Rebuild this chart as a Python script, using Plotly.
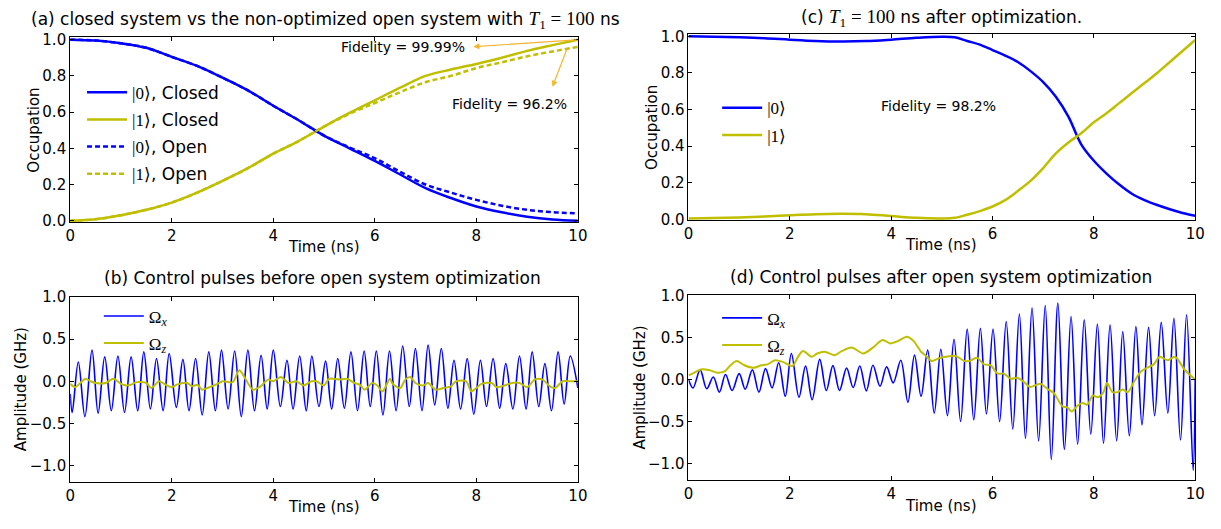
import plotly.graph_objects as go

W, H = 1221, 529
BLUE = "#0000ff"
YEL = "#bfbf00"
ARROW = "#f5b531"
SANS = "DejaVu Sans"
SERIF = "Liberation Serif"

# ---------------- Panel (a): closed vs open, before optimization ----------------
t_a = [0.0, 0.5, 1.0, 1.5, 2.0, 2.5, 3.0, 3.5, 4.0, 4.5, 5.0,
       5.5, 6.0, 6.5, 7.0, 7.5, 8.0, 8.5, 9.0, 9.5, 10.0]
a_closed0 = [1.0, 0.995, 0.98, 0.955, 0.905, 0.855, 0.79, 0.72, 0.635, 0.555, 0.47,
             0.40, 0.33, 0.255, 0.18, 0.125, 0.078, 0.046, 0.022, 0.007, 0.0]
a_closed1 = [0.0, 0.008, 0.03, 0.06, 0.10, 0.155, 0.22, 0.29, 0.37, 0.44, 0.52,
             0.595, 0.665, 0.735, 0.80, 0.835, 0.866, 0.90, 0.938, 0.97, 1.0]
a_open0 = [1.0, 0.995, 0.98, 0.955, 0.905, 0.855, 0.79, 0.72, 0.635, 0.555, 0.47,
           0.405, 0.345, 0.27, 0.20, 0.155, 0.115, 0.083, 0.06, 0.047, 0.04]
a_open1 = [0.0, 0.008, 0.03, 0.06, 0.10, 0.155, 0.22, 0.29, 0.37, 0.44, 0.52,
           0.59, 0.65, 0.71, 0.765, 0.80, 0.843, 0.875, 0.908, 0.935, 0.96]

# ---------------- Panel (c): after optimization ----------------
t_c = [0.0, 0.5, 1.0, 1.5, 2.0, 2.5, 3.0, 3.5, 4.0, 4.5, 5.0, 5.25, 5.5, 5.75,
       6.0, 6.25, 6.5, 6.75, 7.0, 7.25, 7.5, 7.75, 8.0, 8.25, 8.5, 8.75,
       9.0, 9.25, 9.5, 9.75, 10.0]
c_pop0 = [1.0, 0.998, 0.995, 0.99, 0.982, 0.975, 0.972, 0.974, 0.982, 0.992, 0.998,
          0.995, 0.975, 0.955, 0.925, 0.895, 0.86, 0.81, 0.75, 0.67, 0.56, 0.41,
          0.32, 0.25, 0.19, 0.14, 0.105, 0.078, 0.055, 0.035, 0.02]
c_pop1 = [0.005, 0.007, 0.01, 0.015, 0.022, 0.028, 0.03, 0.028, 0.018, 0.008, 0.005,
          0.008, 0.025, 0.045, 0.07, 0.105, 0.155, 0.21, 0.28, 0.36, 0.42, 0.47,
          0.53, 0.58, 0.635, 0.69, 0.745, 0.80, 0.86, 0.92, 0.98]

# ---------------- Panel (b): control pulses before optimization ----------------
b_x_t = [0.0, 0.04, 0.16, 0.29, 0.43, 0.55, 0.68, 0.81, 0.94, 1.07, 1.20, 1.33,
         1.45, 1.58, 1.70, 1.83, 1.95, 2.09, 2.22, 2.34, 2.47, 2.60, 2.73, 2.86,
         2.98, 3.11, 3.24, 3.37, 3.50, 3.63, 3.76, 3.88, 4.00, 4.14, 4.27, 4.39,
         4.52, 4.65, 4.76, 4.90, 5.03, 5.15, 5.27, 5.40, 5.53, 5.66, 5.79, 5.91,
         6.03, 6.16, 6.29, 6.42, 6.55, 6.68, 6.80, 6.93, 7.05, 7.18, 7.31, 7.44,
         7.56, 7.69, 7.82, 7.95, 8.08, 8.20, 8.33, 8.46, 8.58, 8.72, 8.85, 8.98,
         9.10, 9.23, 9.35, 9.48, 9.61, 9.73, 9.85, 10.0]
b_x_v = [-0.15, -0.37, 0.23, -0.42, 0.37, -0.38, 0.29, -0.35, 0.30, -0.37, 0.29, -0.35,
         0.35, -0.33, 0.27, -0.35, 0.33, -0.31, 0.26, -0.35, 0.27, -0.40, 0.35, -0.35,
         0.37, -0.33, 0.36, -0.42, 0.37, -0.35, 0.31, -0.33, 0.37, -0.30, 0.25, -0.33,
         0.30, -0.35, 0.30, -0.30, 0.24, -0.33, 0.27, -0.32, 0.35, -0.35, 0.36, -0.30,
         0.36, -0.40, 0.36, -0.35, 0.42, -0.30, 0.39, -0.35, 0.43, -0.28, 0.39, -0.32,
         0.25, -0.33, 0.27, -0.39, 0.25, -0.30, 0.27, -0.32, 0.21, -0.33, 0.30, -0.33,
         0.35, -0.30, 0.21, -0.35, 0.35, -0.27, 0.30, -0.08]
b_z_t = [0.0, 0.1, 0.2, 0.3, 0.4, 0.5, 0.7, 0.85, 1.0, 1.1, 1.2, 1.3, 1.5, 1.6, 1.75,
         1.85, 2.0, 2.1, 2.3, 2.4, 2.5, 2.6, 2.7, 2.9, 3.0, 3.2, 3.33, 3.45, 3.6, 3.75,
         3.9, 4.0, 4.15, 4.3, 4.45, 4.6, 4.75, 4.85, 5.0, 5.1, 5.3, 5.45, 5.6, 5.7,
         5.8, 5.95, 6.05, 6.15, 6.3, 6.35, 6.5, 6.6, 6.7, 6.8, 6.95, 7.05, 7.2, 7.35,
         7.5, 7.6, 7.8, 7.9, 8.0, 8.1, 8.3, 8.4, 8.5, 8.7, 8.85, 9.0, 9.15, 9.3, 9.45,
         9.55, 9.7, 9.85, 10.0]
b_z_v = [-0.03, -0.07, -0.02, 0.03, 0.0, -0.02, -0.02, 0.03, -0.03, -0.05, -0.04, -0.01,
         -0.02, -0.08, 0.0, -0.03, -0.07, -0.04, -0.02, -0.06, -0.04, -0.10, -0.08, -0.03,
         0.0, -0.01, 0.13, 0.03, -0.10, -0.06, 0.02, 0.0, 0.05, -0.02, 0.0, -0.05, 0.0,
         0.0, -0.05, 0.03, 0.02, 0.03, -0.02, -0.04, -0.10, -0.02, -0.05, -0.12, 0.03,
         -0.03, -0.08, 0.02, 0.05, -0.02, -0.05, -0.02, -0.10, -0.08, -0.06, 0.0, 0.0,
         -0.12, -0.08, -0.03, -0.02, -0.07, -0.06, -0.02, -0.02, -0.07, 0.02, 0.02,
         -0.06, -0.08, 0.0, 0.0, 0.0]

# ---------------- Panel (d): control pulses after optimization ----------------
d_x_t = [0.0, 0.09, 0.23, 0.36, 0.49, 0.61, 0.73, 0.86, 1.00, 1.12, 1.26, 1.39, 1.52,
         1.65, 1.78, 1.91, 2.03, 2.18, 2.31, 2.44, 2.59, 2.72, 2.85, 2.98, 3.12, 3.25,
         3.38, 3.51, 3.64, 3.78, 3.91, 4.04, 4.19, 4.33, 4.46, 4.59, 4.72, 4.85, 4.98,
         5.11, 5.24, 5.37, 5.50, 5.63, 5.76, 5.88, 6.01, 6.14, 6.27, 6.40, 6.53, 6.65,
         6.78, 6.91, 7.04, 7.16, 7.29, 7.42, 7.55, 7.68, 7.81, 7.94, 8.07, 8.19, 8.32,
         8.45, 8.57, 8.70, 8.83, 8.95, 9.08, 9.20, 9.33, 9.46, 9.58, 9.71, 9.83, 9.96,
         10.0]
d_x_v = [0.0, -0.10, 0.115, -0.11, 0.03, -0.15, 0.06, -0.13, 0.07, -0.115, 0.115, -0.15,
         0.13, -0.10, 0.20, -0.20, 0.31, -0.21, 0.16, -0.24, 0.24, -0.13, 0.165, -0.13,
         0.135, -0.095, 0.16, -0.135, 0.17, -0.08, 0.15, -0.04, 0.23, -0.27, 0.29, -0.20,
         0.35, -0.40, 0.36, -0.43, 0.48, -0.50, 0.60, -0.48, 0.61, -0.41, 0.60, -0.50,
         0.69, -0.59, 0.78, -0.70, 0.85, -0.73, 0.88, -0.95, 0.91, -0.83, 0.75, -0.77,
         0.71, -0.65, 0.66, -0.76, 0.65, -0.73, 0.57, -0.67, 0.63, -0.54, 0.62, -0.43,
         0.68, -0.40, 0.73, -0.72, 0.77, -1.08, 0.0]
d_z_t = [0.0, 0.11, 0.24, 0.42, 0.57, 0.72, 0.83, 0.95, 1.10, 1.29, 1.44, 1.56, 1.71,
         1.86, 2.05, 2.16, 2.26, 2.43, 2.54, 2.69, 2.88, 3.03, 3.22, 3.45, 3.64, 3.83,
         3.98, 4.14, 4.31, 4.44, 4.59, 4.69, 4.80, 4.93, 5.08, 5.27, 5.45, 5.54, 5.69,
         5.83, 5.96, 6.10, 6.22, 6.36, 6.49, 6.64, 6.74, 6.94, 7.10, 7.21, 7.38, 7.47,
         7.56, 7.68, 7.78, 7.87, 7.98, 8.08, 8.19, 8.26, 8.37, 8.47, 8.57, 8.67, 8.79,
         8.92, 9.02, 9.18, 9.30, 9.46, 9.60, 9.80, 10.0]
d_z_v = [0.05, 0.08, 0.12, 0.11, 0.08, 0.10, 0.17, 0.22, 0.17, 0.14, 0.17, 0.18, 0.23,
         0.21, 0.16, 0.27, 0.34, 0.27, 0.31, 0.33, 0.29, 0.34, 0.38, 0.31, 0.38, 0.47,
         0.43, 0.46, 0.51, 0.46, 0.33, 0.28, 0.22, 0.25, 0.27, 0.28, 0.22, 0.22, 0.26,
         0.18, 0.17, 0.07, 0.07, 0.01, 0.02, -0.04, -0.09, -0.05, -0.12, -0.16, -0.32,
         -0.33, -0.38, -0.31, -0.28, -0.30, -0.19, -0.21, -0.15, -0.04, -0.15, -0.15,
         -0.12, -0.15, -0.03, 0.09, 0.13, 0.18, 0.27, 0.23, 0.27, 0.11, 0.0]

x_ticks = [0, 2, 4, 6, 8, 10]
occ_ticks = [0.0, 0.2, 0.4, 0.6, 0.8, 1.0]
amp_ticks = [-1.0, -0.5, 0.0, 0.5, 1.0]


def px(x):
    return x / W


def py(y):
    return 1 - y / H


def ket(n):
    return f'<span style="font-family:{SERIF}">|{n}⟩</span>'


def omega(s):
    return f'<span style="font-family:{SERIF}">Ω<sub><i>{s}</i></sub></span>'


fig = go.Figure()
spl = dict(shape="spline", smoothing=1.0)

# (a)
fig.add_trace(go.Scatter(x=t_a, y=a_closed0, name=ket(0) + ", Closed", xaxis="x", yaxis="y",
                         line=dict(color=BLUE, width=2.5, **spl), legend="legend", legendgroup="a1"))
fig.add_trace(go.Scatter(x=t_a, y=a_closed1, name=ket(1) + ", Closed", xaxis="x", yaxis="y",
                         line=dict(color=YEL, width=2.5, **spl), legend="legend", legendgroup="a2"))
fig.add_trace(go.Scatter(x=t_a, y=a_open0, name=ket(0) + ", Open", xaxis="x", yaxis="y",
                         line=dict(color=BLUE, width=2.5, dash="5px,3px", **spl), legend="legend", legendgroup="a3"))
fig.add_trace(go.Scatter(x=t_a, y=a_open1, name=ket(1) + ", Open", xaxis="x", yaxis="y",
                         line=dict(color=YEL, width=2.5, dash="5px,3px", **spl), legend="legend", legendgroup="a4"))
# (c)
fig.add_trace(go.Scatter(x=t_c, y=c_pop0, name=ket(0), xaxis="x2", yaxis="y2",
                         line=dict(color=BLUE, width=2.5, **spl), legend="legend2", legendgroup="c1"))
fig.add_trace(go.Scatter(x=t_c, y=c_pop1, name=ket(1), xaxis="x2", yaxis="y2",
                         line=dict(color=YEL, width=2.5, **spl), legend="legend2", legendgroup="c2"))
# (b)
fig.add_trace(go.Scatter(x=b_x_t, y=b_x_v, name=omega("x"), xaxis="x3", yaxis="y3",
                         line=dict(color=BLUE, width=1.6, **spl), legend="legend3", legendgroup="b1"))
fig.add_trace(go.Scatter(x=b_z_t, y=b_z_v, name=omega("z"), xaxis="x3", yaxis="y3",
                         line=dict(color=YEL, width=2, shape="spline", smoothing=0.8),
                         legend="legend3", legendgroup="b2"))
# (d)
fig.add_trace(go.Scatter(x=d_x_t, y=d_x_v, name=omega("x"), xaxis="x4", yaxis="y4",
                         line=dict(color=BLUE, width=1.6, **spl), legend="legend4", legendgroup="d1"))
fig.add_trace(go.Scatter(x=d_z_t, y=d_z_v, name=omega("z"), xaxis="x4", yaxis="y4",
                         line=dict(color=YEL, width=2, shape="spline", smoothing=0.8),
                         legend="legend4", legendgroup="d2"))

axis_common = dict(showline=True, linecolor="black", linewidth=1, mirror="allticks",
                   ticks="inside", ticklen=4, tickwidth=1, tickcolor="black",
                   showgrid=False, zeroline=False,
                   tickfont=dict(family=SANS, size=15, color="black"))

leg_common = dict(xanchor="left", yanchor="top", bgcolor="rgba(0,0,0,0)",
                  font=dict(family=SANS, size=17), tracegroupgap=2, itemwidth=40)

fig.update_layout(
    width=W, height=H, margin=dict(l=0, r=0, t=0, b=0),
    paper_bgcolor="white", plot_bgcolor="white",
    font=dict(family=SANS, color="black"),
    xaxis=dict(domain=[px(66), px(580)], range=[0, 10], anchor="y",
               tickvals=x_ticks, **axis_common),
    yaxis=dict(domain=[py(220.5), py(29)], range=[-0.0096, 1.0144], anchor="x",
               tickvals=occ_ticks, tickformat=".1f", **axis_common),
    xaxis2=dict(domain=[px(692), px(1205)], range=[0, 10], anchor="y2",
                tickvals=x_ticks, **axis_common),
    yaxis2=dict(domain=[py(218.3), py(26)], range=[-0.0053, 1.012], anchor="x2",
                tickvals=occ_ticks, tickformat=".1f", **axis_common),
    xaxis3=dict(domain=[px(66), px(580)], range=[0, 10], anchor="y3",
                tickvals=x_ticks, **axis_common),
    yaxis3=dict(domain=[py(489), py(297.7)], range=[-1.2, 1.0], anchor="x3",
                tickvals=amp_ticks, tickformat=".1f", **axis_common),
    xaxis4=dict(domain=[px(692), px(1205)], range=[0, 10], anchor="y4",
                tickvals=x_ticks, **axis_common),
    yaxis4=dict(domain=[py(487), py(296)], range=[-1.2, 1.0], anchor="x4",
                tickvals=amp_ticks, tickformat=".1f", **axis_common),
    legend=dict(x=px(78), y=py(68), **leg_common),
    legend2=dict(x=px(721), y=py(84), **leg_common),
    legend3=dict(x=px(95), y=py(299), **leg_common),
    legend4=dict(x=px(721), y=py(301), **leg_common),
)

ann = []


def text(x, y, s, size, **kw):
    d = dict(x=px(x), y=py(y), xref="paper", yref="paper", text=s, showarrow=False,
             xanchor="center", yanchor="middle",
             font=dict(family=SANS, size=size, color="black"))
    d.update(kw)
    ann.append(d)


serifT = (f'<span style="font-family:{SERIF};font-size:19px"><i>T</i><sub>1</sub>'
          f' = 100</span>')
text(324, 11, "(a) closed system vs the non-optimized open system with " + serifT + " ns", 17)
text(948, 9, "(c) " + serifT + " ns after optimization.", 17)
text(321, 278, "(b) Control pulses before open system optimization", 17)
text(948, 277, "(d) Control pulses after open system optimization", 17)
text(323, 246, "Time (ns)", 15)
text(948, 244, "Time (ns)", 15)
text(323, 515, "Time (ns)", 15)
text(948, 513, "Time (ns)", 15)
text(29, 125, "Occupation", 15, textangle=-90)
text(655, 122, "Occupation", 15, textangle=-90)
text(17, 393, "Amplitude (GHz)", 15, textangle=-90)
text(643, 391, "Amplitude (GHz)", 15, textangle=-90)

text(338, 39, "Fidelity = 99.99%", 14, xanchor="left")
text(451, 98, "Fidelity = 96.2%", 14, xanchor="left")
text(945, 100, "Fidelity = 98.2%", 14)

# arrows (head near text, tail at the curve end)
ann.append(dict(x=7.94, y=0.961, xref="x", yref="y", ax=10.0, ay=1.0, axref="x", ayref="y",
                text="", showarrow=True, arrowhead=2, arrowsize=1, arrowwidth=1.2,
                arrowcolor=ARROW, standoff=0, startstandoff=0))
ann.append(dict(x=9.5, y=0.74, xref="x", yref="y", ax=9.8, ay=0.96, axref="x", ayref="y",
                text="", showarrow=True, arrowhead=2, arrowsize=1, arrowwidth=1.2,
                arrowcolor=ARROW, standoff=0, startstandoff=0))

fig.update_layout(annotations=ann)
fig.write_html("out.html")
